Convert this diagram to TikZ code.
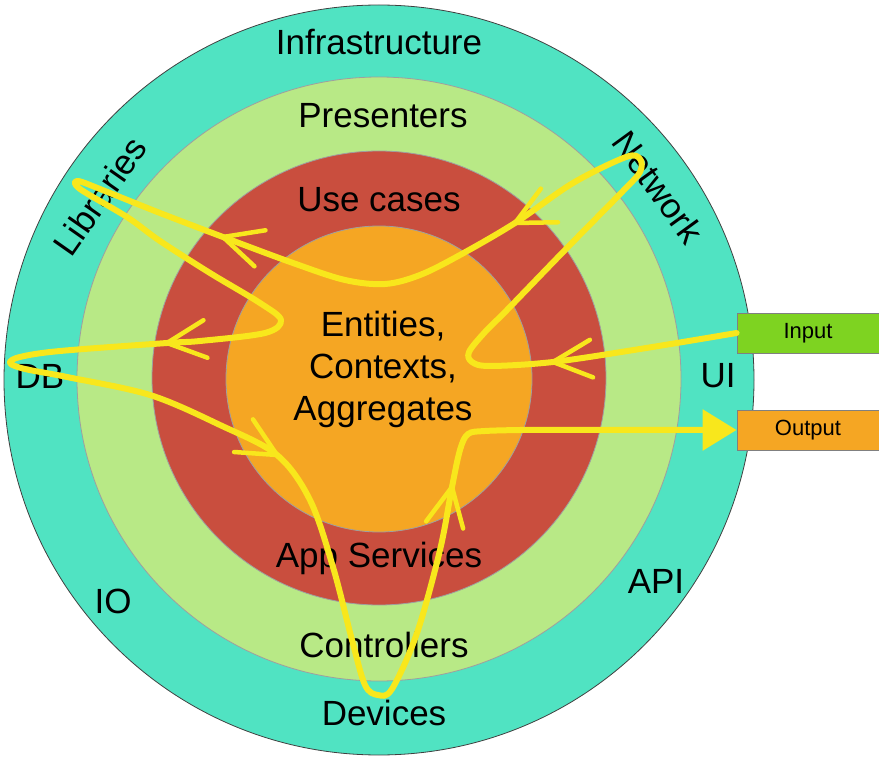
\documentclass[tikz,border=0pt]{standalone}
\usepackage{fontspec}
\setmainfont{Liberation Sans}
\usepackage{tikz}
\usetikzlibrary{arrows.meta}

\definecolor{infracol}{RGB}{80,227,194}
\definecolor{presentcol}{RGB}{184,233,134}
\definecolor{usecasecol}{RGB}{201,78,62}
\definecolor{corecol}{RGB}{245,166,35}
\definecolor{inputcol}{RGB}{126,211,33}
\definecolor{flowcol}{RGB}{248,231,28}

% open barb drawn on the flow line: tip, direction the arms point to
\newcommand{\flowbarb}[2]{%
    \draw[barb] (#1) ++(#2+26:43) -- (#1) -- ++(#2-26:43);}

\begin{document}
\begin{tikzpicture}[x=1pt, y=-1pt,
    ring/.style={circle, inner sep=0pt, draw=gray!75, line width=0.8pt},
    layer/.style={anchor=base, font=\fontsize{35}{42}\selectfont},
    flow/.style={draw=flowcol, line width=6pt, line cap=round, line join=round},
    barb/.style={draw=flowcol, line width=4.5pt, line cap=round, line join=round},
    port/.style={draw=gray, line width=0.8pt, minimum width=142pt, minimum height=40pt,
        inner sep=0pt, font=\fontsize{22}{24}\selectfont}]
    \useasboundingbox (0, 0) rectangle (879, 759);
    % rings
    \node[ring, fill=infracol, draw=black!75, minimum size=750pt] (infra) at (379, 380) {};
    \node[ring, fill=presentcol, minimum size=604pt] (pres) at (379, 379) {};
    \node[ring, fill=usecasecol, minimum size=454pt] (usecase) at (379, 378) {};
    \node[ring, fill=corecol, minimum size=306pt] (core) at (379, 379) {};
    % ring labels
    \node[layer] (infralbl) at (379, 55) {Infrastructure};
    \node[layer] (preslbl) at (383, 128) {Presenters};
    \node[layer] (usecaselbl) at (379, 212) {Use cases};
    \node[layer, anchor=center, align=center] (corelbl) at (383, 369) {Entities,\\Contexts,\\Aggregates};
    \node[layer] (applbl) at (379, 567) {App Services};
    \node[layer] (ctrllbl) at (384, 657) {Controllers};
    \node[layer] (devlbl) at (384, 725) {Devices};
    \node[layer] (dblbl) at (40, 389) {DB};
    \node[layer] (uilbl) at (718, 388) {UI};
    \node[layer] (iolbl) at (113, 613) {IO};
    \node[layer] (apilbl) at (656, 593) {API};
    \node[layer, anchor=center, rotate=55] (liblbl) at (100, 196) {Libraries};
    \node[layer, anchor=center, rotate=-54] (netlbl) at (658, 187) {Network};
    % ports
    \node[port, fill=inputcol] (input) at (808, 333) {Input};
    \node[port, fill=corecol] (output) at (808, 430) {Output};
    % flow of control
    \draw[flow, -{Triangle[length=34pt, width=40pt]}] plot[smooth, tension=0.55] coordinates {
        (input.west) (640, 349) (553, 362) (490, 366) (472, 362) (469, 352) (485, 332)
        (507, 310) (565, 250) (623, 191) (640, 172) (640, 159) (626, 157) (573, 183)
        (515, 223) (460, 255) (420, 275) (385, 284) (345, 280) (293, 263) (223, 237)
        (160, 213) (105, 191) (78, 181) (80, 189) (127, 217) (160, 241) (210, 273)
        (260, 303) (281, 320) (265, 333) (200, 341) (167, 343) (60, 351) (20, 357)
        (10, 363) (25, 369) (67, 377) (150, 395) (220, 425) (277, 455) (310, 500)
        (333, 567) (352, 640) (365, 685) (378, 695) (392, 689) (417, 633) (440, 550)
        (452, 487) (460, 450) (468, 434) (485, 431) (520, 430)} -- (output.west);
    \coordinate (inarrow) at (553, 362);
    \coordinate (netarrow) at (515, 223);
    \coordinate (libarrow) at (223, 237);
    \coordinate (dbarrow) at (167, 343);
    \coordinate (corearrow) at (277, 455);
    \coordinate (devarrow) at (452, 487);
    \flowbarb{inarrow}{-5}
    \flowbarb{netarrow}{-27}
    \flowbarb{libarrow}{17}
    \flowbarb{dbarrow}{-6}
    \flowbarb{corearrow}{-150}
    \flowbarb{devarrow}{101}
\end{tikzpicture}
\end{document}
